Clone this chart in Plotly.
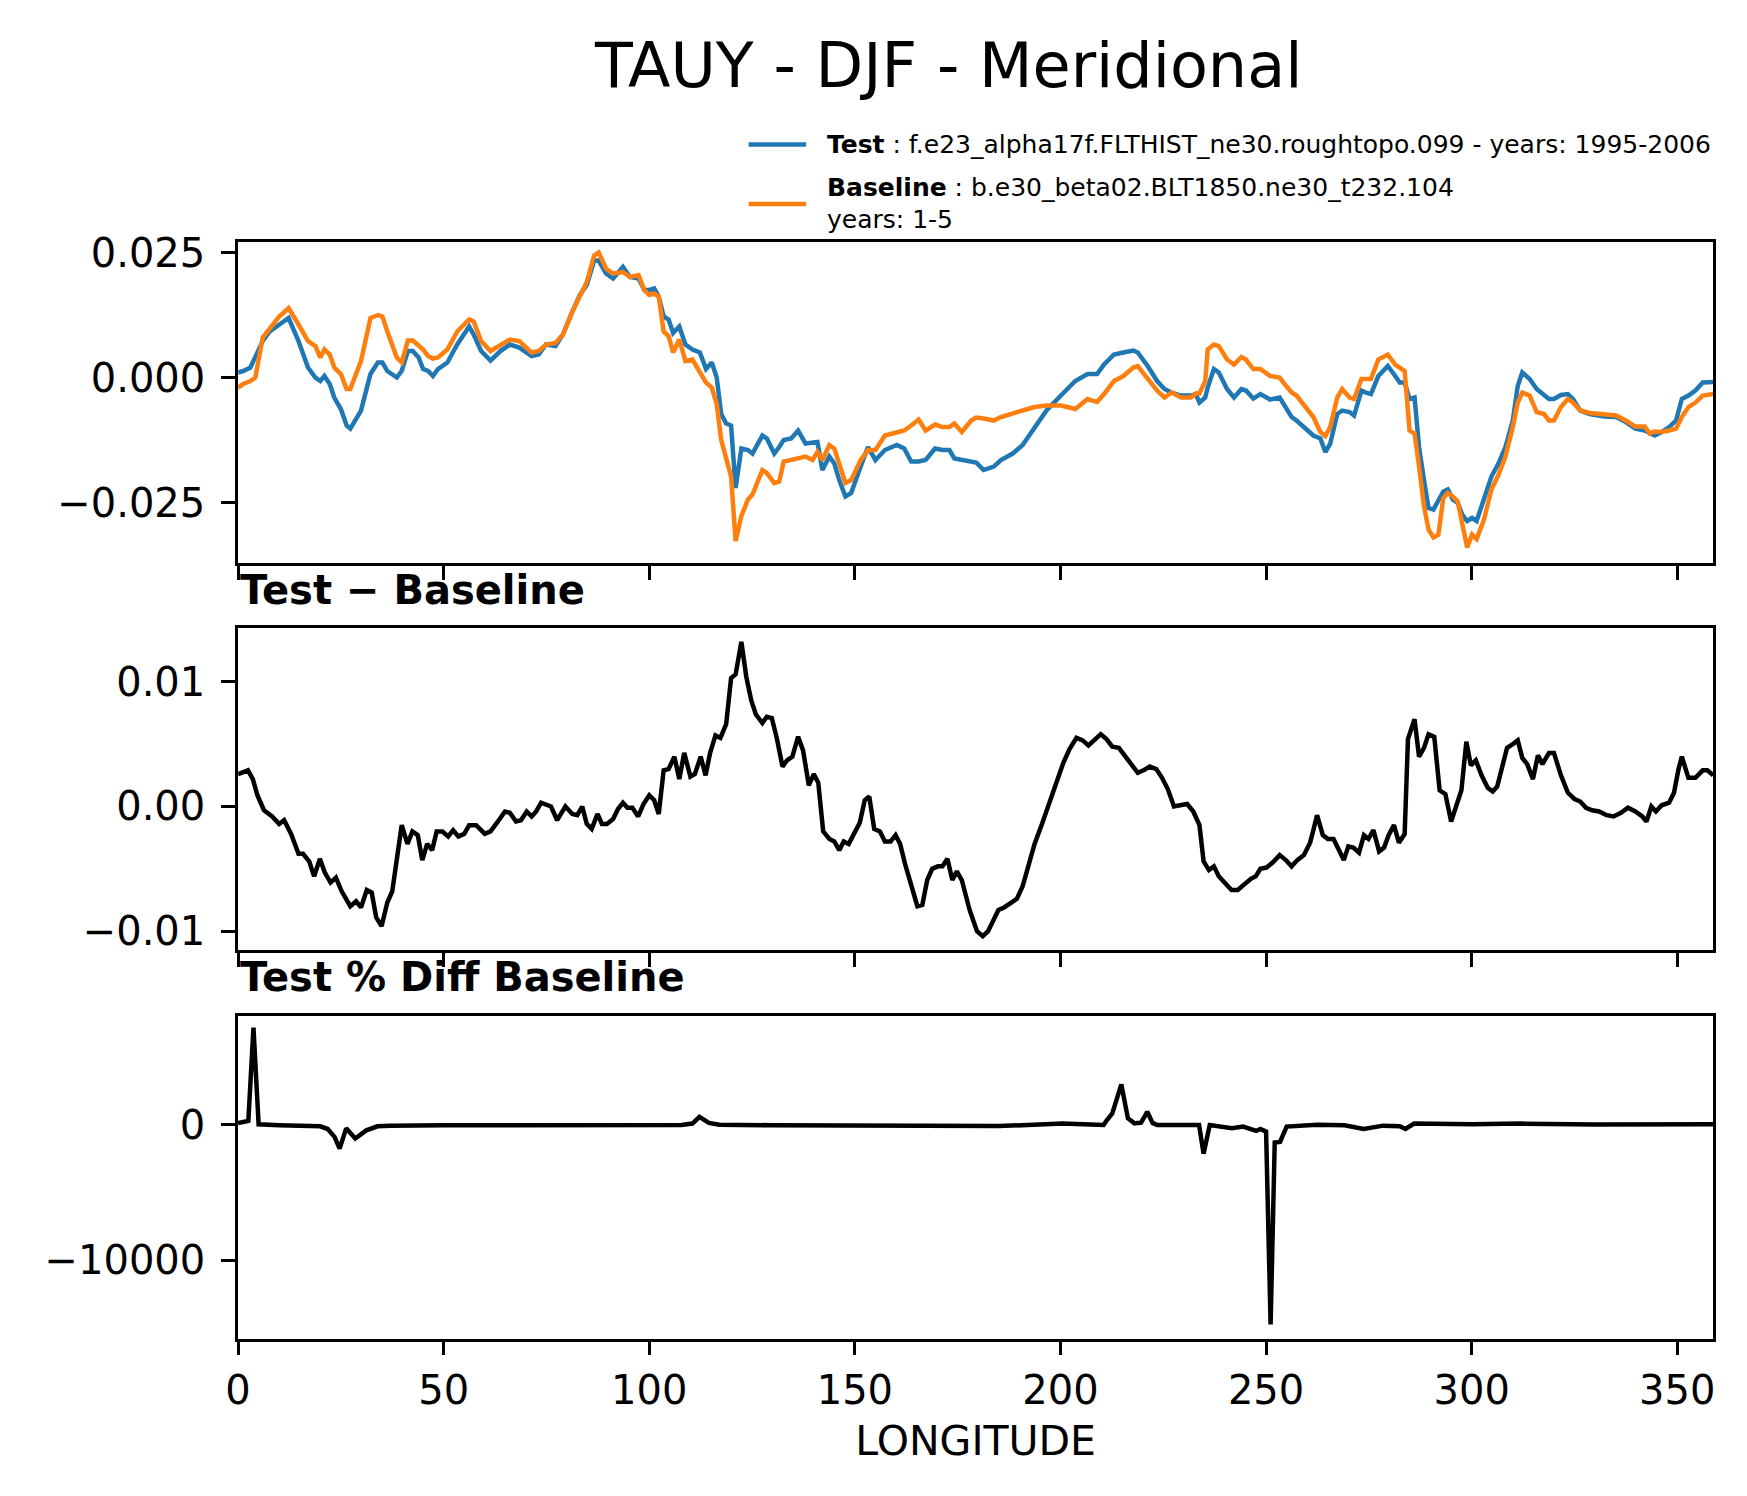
import plotly.graph_objects as go

# ---------------- data ----------------
lon_top = [0, 1.25, 3, 4.2, 6, 7.7, 10, 11.8, 12.3, 14.7, 17, 18.8, 20, 21, 22.3, 23.4, 25, 26.4, 27.3,
           29.9, 32.2, 34, 35.1, 36.3, 38.6, 39.8, 41.3, 42.5, 43.9, 45, 46.2, 47.4, 48.6, 50.9, 53.3,
           56.2, 57.3, 59.1, 61.4, 63.8, 66.1, 68.4, 71.4, 73.1, 74.9, 77.2, 79, 81.3, 83.1, 84.8, 86.6,
           87.7, 89.5, 91.2, 93.6, 95.3, 97.4, 98.8, 100, 101.2, 102.3, 103.5, 104.7, 105.8, 107.3,
           108.8, 110.5, 112.3, 113.8, 115.2, 116.4, 117.5, 118.7, 119.9, 121, 122.4, 124, 125.1,
           127.5, 128.6, 130.4, 131.6, 132.7, 134.5, 136.2, 138, 139.7, 140.9, 142.1, 143.8, 145,
           146.2, 147.7, 149.1, 151.4, 153.2, 155, 157.3, 160.2, 162, 163.7, 165.5, 167.2, 169.5,
           171.3, 173, 174.2, 176, 178.3, 179.5, 181.3, 183.8, 185.5, 188.4, 190.8, 193.7, 196.6,
           200.1, 203.6, 206.6, 208.9, 210.6, 213, 215.3, 217.7, 218.8, 221.2, 223.5, 225.3, 227,
           229.3, 231.7, 232.9, 233.8, 235.2, 235.8, 237.3, 238.5, 240.5, 242.2, 244, 245.1, 246.9,
           248.6, 251, 253.3, 254.5, 256.2, 257.4, 259.7, 261.5, 263.2, 264.4, 265.6, 267.3, 268.5,
           270.3, 271.4, 273.2, 274.3, 275.5, 277.3, 279.6, 281.4, 282.5, 283.7, 284.9, 286.1, 287.2,
           288.4, 289.5, 290.7, 291.9, 293.1, 294.2, 295.4, 296.6, 297.7, 298.9, 300.1, 301.2, 303,
           304.8, 306.5, 308.2, 310, 311.2, 312.3, 314.1, 315.8, 317.6, 318.8, 320, 321.7, 323.4,
           324.6, 326.4, 328.7, 332.2, 335.1, 337.5, 339.8, 342.1, 343.3, 344.5, 346.2, 348, 349.7,
           351.1, 352.7, 354.4, 356.2, 358.75]

tauy_test = [0.001, 0.0013, 0.002, 0.004, 0.0073, 0.0092, 0.0106, 0.0116, 0.0119, 0.0073, 0.002, 0.0,
             -0.0007, 0.0003, -0.0013, -0.004, -0.0063, -0.0096, -0.0102, -0.0066, 0.0007, 0.003,
             0.003, 0.0013, 0.0, 0.0013, 0.0053, 0.0053, 0.004, 0.0017, 0.0013, 0.0003, 0.0017, 0.003,
             0.0066, 0.0102, 0.0086, 0.0053, 0.0034, 0.0053, 0.0066, 0.006, 0.0043, 0.0046, 0.0066,
             0.0063, 0.0086, 0.0132, 0.0165, 0.0185, 0.0234, 0.0234, 0.0208, 0.0198, 0.0221, 0.0201,
             0.0198, 0.0175, 0.0175, 0.0178, 0.0162, 0.0122, 0.0116, 0.0089, 0.0102, 0.0066, 0.0056,
             0.005, 0.0017, 0.003, 0.0, -0.0073, -0.0092, -0.0096, -0.0221, -0.0142, -0.0145, -0.0152,
             -0.0116, -0.0122, -0.0152, -0.0139, -0.0125, -0.0122, -0.0106, -0.0132, -0.0129, -0.0129,
             -0.0185, -0.0158, -0.0172, -0.0205, -0.0238, -0.0231, -0.0178, -0.0139, -0.0165, -0.0145,
             -0.0135, -0.0142, -0.0168, -0.0168, -0.0165, -0.0142, -0.0145, -0.0145, -0.0162, -0.0165,
             -0.0168, -0.017, -0.0185, -0.0178, -0.0165, -0.0152, -0.0135, -0.0099, -0.0066, -0.0036,
             -0.0007, 0.0007, 0.0007, 0.0026, 0.0046, 0.005, 0.0054, 0.005, 0.0023, -0.0007, -0.0023,
             -0.003, -0.0036, -0.0036, -0.0033, -0.005, -0.004, -0.002, 0.0017, 0.001, -0.0023, -0.004,
             -0.0023, -0.0026, -0.0042, -0.0033, -0.0044, -0.004, -0.0056, -0.0079, -0.0086, -0.0102,
             -0.0116, -0.0122, -0.0149, -0.0132, -0.0073, -0.0066, -0.0069, -0.0076, -0.0026, -0.003,
             -0.0033, 0.0003, 0.0023, 0.0003, -0.001, -0.001, -0.0043, -0.004, -0.0139, -0.0205,
             -0.0261, -0.0264, -0.0248, -0.0228, -0.0224, -0.0244, -0.0251, -0.0274, -0.0287, -0.0281,
             -0.0287, -0.0241, -0.0198, -0.0172, -0.0139, -0.0086, -0.0017, 0.001, -0.0003, -0.0023,
             -0.0036, -0.0043, -0.0043, -0.0035, -0.0033, -0.0043, -0.0066, -0.0073, -0.0078, -0.0079,
             -0.0089, -0.0102, -0.0106, -0.0112, -0.0116, -0.0109, -0.0099, -0.0086, -0.0043, -0.0036,
             -0.0026, -0.001, -0.0009]

tauy_base = [-0.002, -0.0013, -0.0007, 0.0, 0.008, 0.0099, 0.0122, 0.0135, 0.0139, 0.0106, 0.0073,
             0.0063, 0.004, 0.0056, 0.0046, 0.002, 0.0007, -0.0023, -0.0023, 0.0033, 0.0119, 0.0125,
             0.0122, 0.0092, 0.004, 0.003, 0.0074, 0.0074, 0.0063, 0.0056, 0.0043, 0.0038, 0.004,
             0.0056, 0.0092, 0.0116, 0.0112, 0.0073, 0.0053, 0.0066, 0.0076, 0.0073, 0.005, 0.0053,
             0.0066, 0.0069, 0.0086, 0.0132, 0.0165, 0.0191, 0.0244, 0.025, 0.0218, 0.0208, 0.0211,
             0.0201, 0.0205, 0.0175, 0.0165, 0.0168, 0.0162, 0.0092, 0.0083, 0.005, 0.0076, 0.0033,
             0.0036, 0.001, -0.001, -0.002, -0.0053, -0.0125, -0.0158, -0.0198, -0.0327, -0.0277,
             -0.0244, -0.0234, -0.0185, -0.0191, -0.0211, -0.0208, -0.0168, -0.0165, -0.0162, -0.0158,
             -0.0165, -0.0149, -0.0165, -0.0135, -0.0142, -0.0172, -0.0211, -0.0205, -0.0165, -0.0145,
             -0.0145, -0.0116, -0.0109, -0.0106, -0.0096, -0.0084, -0.0106, -0.0094, -0.0099, -0.0099,
             -0.0092, -0.0109, -0.0086, -0.008, -0.0082, -0.0086, -0.0079, -0.0073, -0.0066, -0.0059,
             -0.0056, -0.0056, -0.0063, -0.0043, -0.0049, -0.0033, -0.0007, 0.0003, 0.002, 0.0023,
             -0.0003, -0.0026, -0.004, -0.003, -0.004, -0.004, -0.0032, -0.0032, -0.0007, 0.0056,
             0.0066, 0.0063, 0.0036, 0.0026, 0.0041, 0.0036, 0.0017, 0.0017, 0.0003, 0.0, -0.0013,
             -0.003, -0.0036, -0.0059, -0.0079, -0.0109, -0.0117, -0.0099, -0.004, -0.0023, -0.004,
             -0.0043, -0.0003, -0.0003, -0.0003, 0.0036, 0.0046, 0.0026, 0.002, 0.0013, -0.0106,
             -0.0112, -0.0178, -0.0257, -0.0304, -0.032, -0.0314, -0.0241, -0.0231, -0.0238, -0.0248,
             -0.0297, -0.034, -0.0314, -0.0323, -0.0284, -0.0224, -0.0195, -0.0158, -0.0099, -0.005,
             -0.003, -0.0036, -0.0069, -0.0073, -0.0086, -0.0086, -0.0059, -0.0043, -0.005, -0.0066,
             -0.0071, -0.0073, -0.0076, -0.0086, -0.0098, -0.0098, -0.0112, -0.0108, -0.0109, -0.0106,
             -0.0102, -0.0079, -0.0059, -0.005, -0.0036, -0.0033]

lon_diff = [0, 2.4, 3.6, 4.7, 6.3, 8.3, 10, 11.2, 12.9, 14.7, 15.8, 17.3, 18.5, 19.9, 21.1, 22.5, 23.8,
            25.2, 27.3, 28.7, 29.9, 31.3, 32.5, 33.6, 34.9, 36.3, 37.5, 38.7, 39.8, 41.2, 42.4, 43.7,
            44.8, 46, 47.2, 48.3, 49.7, 51.1, 52.3, 53.6, 55, 56.2, 57.9, 60, 61.4, 63.2, 64.9, 66.1,
            67.6, 68.8, 70.2, 71.4, 72.5, 73.7, 74.9, 76.1, 77.6, 79.6, 81.3, 82.5, 83.7, 84.8, 86,
            87.4, 88.5, 89.7, 91.2, 92.4, 93.6, 94.7, 95.9, 97.3, 98.6, 100, 101.2, 102.3, 103.5,
            104.7, 106.1, 107.3, 108.5, 110, 111.1, 112.5, 113.7, 114.8, 116.1, 117.3, 118.7, 119.9,
            121, 122.4, 123.6, 124.8, 125.9, 127.5, 128.6, 129.8, 131, 132.4, 133.5, 134.8, 136.2,
            137.4, 138.8, 140, 141.1, 142.3, 143.8, 145, 146.2, 147.3, 148.5, 150, 151.2, 152.4,
            153.5, 154.7, 156.1, 157.3, 158.7, 159.9, 161, 162.2, 163.7, 165.2, 166.4, 167.6, 168.8,
            170.2, 171.3, 172.5, 173.7, 174.8, 176, 177.9, 179.7, 181.1, 182.4, 183.8, 184.9, 186.3,
            187.9, 189.4, 190.8, 192.2, 193.7, 195.5, 197.2, 199, 200.7, 202.2, 203.9, 205.4, 206.8,
            208.3, 209.8, 211.2, 212.6, 214.2, 215.7, 217.1, 218.8, 220.2, 221.7, 223.3, 224.7,
            226.1, 227.6, 229.1, 230.8, 232.3, 233.8, 234.8, 236.1, 237.3, 238.5, 239.9, 241.6,
            243.1, 244.5, 246.3, 247.5, 248.6, 250.1, 251.6, 253.3, 254.8, 256.2, 257.6, 259.2,
            260.7, 261.5, 262.4, 263.8, 265, 266.4, 267.7, 268.9, 270, 271.2, 272.6, 273.8, 274.9,
            276.1, 277.5, 278.7, 279.8, 281.1, 282.3, 283.7, 284.5, 286.1, 287.2, 288.4, 289.5,
            290.9, 292.2, 293.6, 295, 296.2, 297.5, 298.7, 299.8, 301, 302.4, 303.9, 305.1, 306.2,
            307.4, 308.6, 310, 311.2, 312.3, 313.5, 314.9, 316.1, 317.2, 318.8, 320, 321.7, 323.4,
            325, 326.4, 327.8, 329.3, 331, 332.8, 334.5, 336.3, 338, 339.8, 341.5, 342.5, 343.7,
            344.8, 346.2, 348, 349.2, 350.3, 351.1, 352.7, 354.4, 356.2, 357.3, 358.75]

tauy_diff = [0.0026, 0.0029, 0.0022, 0.0009, -0.0003, -0.0008, -0.0014, -0.0011, -0.0022, -0.0038,
             -0.0038, -0.0044, -0.0056, -0.0042, -0.0053, -0.0061, -0.0057, -0.0068, -0.008, -0.0076,
             -0.0081, -0.0067, -0.0069, -0.0089, -0.0096, -0.0077, -0.0068, -0.004, -0.0015, -0.003,
             -0.002, -0.0023, -0.0043, -0.003, -0.0035, -0.002, -0.002, -0.0024, -0.0019, -0.0024,
             -0.0022, -0.0015, -0.0015, -0.0022, -0.002, -0.0012, -0.0004, -0.0005, -0.0012, -0.0011,
             -0.0004, -0.0008, -0.0004, 0.0003, 0.0001, 0.0, -0.0011, 0.0, -0.0006, -0.0007, 0.0,
             -0.0014, -0.0018, -0.0006, -0.0014, -0.0014, -0.001, -0.0002, 0.0003, -0.0001, -0.0001,
             -0.0008, 0.0002, 0.0009, 0.0005, -0.0006, 0.0029, 0.003, 0.004, 0.0022, 0.0043, 0.0024,
             0.0026, 0.004, 0.0025, 0.0043, 0.0057, 0.0055, 0.0066, 0.0103, 0.0106, 0.0132, 0.0104,
             0.0085, 0.0074, 0.0067, 0.0072, 0.0071, 0.0055, 0.0032, 0.0037, 0.004, 0.0056, 0.0045,
             0.0017, 0.0026, 0.0019, -0.002, -0.0026, -0.0028, -0.0035, -0.0028, -0.003, -0.002,
             -0.0013, 0.0005, 0.0008, -0.0018, -0.002, -0.0028, -0.0028, -0.0023, -0.003, -0.0046,
             -0.0064, -0.008, -0.0079, -0.0059, -0.005, -0.0048, -0.0048, -0.0042, -0.0059, -0.0052,
             -0.0059, -0.0083, -0.01, -0.0104, -0.01, -0.009, -0.0083, -0.0081, -0.0077, -0.0074,
             -0.0064, -0.0048, -0.003, -0.0014, 0.0003, 0.0019, 0.0035, 0.0046, 0.0055, 0.0053,
             0.0049, 0.0054, 0.0058, 0.0054, 0.0048, 0.0047, 0.004, 0.0034, 0.0027, 0.0029, 0.0032,
             0.003, 0.0023, 0.0014, 0.0, 0.0001, 0.0002, -0.0004, -0.0015, -0.0044, -0.0051, -0.0048,
             -0.0056, -0.0061, -0.0067, -0.0067, -0.0063, -0.0058, -0.0056, -0.005, -0.0049, -0.0045,
             -0.0039, -0.0043, -0.0048, -0.0043, -0.0039, -0.0029, -0.0019, -0.0007, -0.0023,
             -0.0026, -0.0026, -0.0034, -0.0043, -0.0032, -0.0033, -0.0037, -0.0023, -0.0026,
             -0.0019, -0.0036, -0.0033, -0.0023, -0.0015, -0.0029, -0.0022, 0.0054, 0.007, 0.004,
             0.0047, 0.0058, 0.0056, 0.0013, 0.001, -0.0012, 0.0001, 0.0013, 0.0052, 0.0033, 0.0037,
             0.0025, 0.0015, 0.0012, 0.0016, 0.003, 0.0047, 0.005, 0.0053, 0.0039, 0.0034, 0.0022,
             0.0041, 0.0034, 0.0043, 0.0043, 0.0025, 0.0011, 0.0006, 0.0004, -0.0001, -0.0003,
             -0.0004, -0.0007, -0.0008, -0.0005, -0.0001, -0.0004, -0.0008, -0.0012, 0.0, -0.0004,
             0.0001, 0.0003, 0.0011, 0.003, 0.004, 0.0023, 0.0023, 0.0029, 0.0029, 0.0025]

lon_pct = [0, 1.25, 2.5, 3.75, 5, 10, 15, 20, 21.8, 23.5, 24.7, 26.3, 28.5, 31.2, 33.9, 37, 50, 75,
           100, 107.8, 110.5, 112.2, 114.5, 117, 130, 150, 165, 185, 200.5, 210.5, 211, 212.6, 214.8,
           216.4, 218, 219.6, 221.1, 222.4, 223.5, 233.7, 234.8, 236.3, 241.7, 244.4, 247.6, 248.6,
           250, 251.1, 252.1, 253.4, 255, 262.4, 269.1, 273.7, 278.5, 282.5, 283.9, 286, 300, 312,
           330, 358.75]

pct_diff = [150, 200, 300, 7180, 50, -20, -50, -100, -300, -900, -1750, -250, -1000, -400, -100,
            -50, -30, -20, -10, 0, 100, 600, 150, 20, -20, -50, -100, -80, 100, 0, 240, 850, 2990,
            490, 120, 170, 970, 150, 0, 0, -2120, 0, -250, -120, -440, -300, -490, -14715, -1290,
            -1250, -120, 20, -30, -300, -50, -100, -300, 100, 50, 100, 40, 50]

x_ticks = [0, 50, 100, 150, 200, 250, 300, 350]
top_ticks = [0.025, 0.0, -0.025]
top_tick_text = ["0.025", "0.000", "\u22120.025"]
mid_ticks = [0.01, 0.0, -0.01]
mid_tick_text = ["0.01", "0.00", "\u22120.01"]
bot_ticks = [0, -10000]
bot_tick_text = ["0", "\u221210000"]

# ---------------- figure ----------------
W, H = 1747, 1496
FONT = "DejaVu Sans"
BLUE = "#1f77b4"
ORANGE = "#ff7f0e"

fig = go.Figure()
fig.add_trace(go.Scatter(x=lon_top, y=tauy_test, mode="lines", line=dict(color=BLUE, width=4.5),
                         xaxis="x", yaxis="y", name="Test", showlegend=False))
fig.add_trace(go.Scatter(x=lon_top, y=tauy_base, mode="lines", line=dict(color=ORANGE, width=4.5),
                         xaxis="x", yaxis="y", name="Baseline", showlegend=False))
fig.add_trace(go.Scatter(x=lon_diff, y=tauy_diff, mode="lines", line=dict(color="black", width=4.5),
                         xaxis="x2", yaxis="y2", showlegend=False))
fig.add_trace(go.Scatter(x=lon_pct, y=pct_diff, mode="lines", line=dict(color="black", width=4.5),
                         xaxis="x3", yaxis="y3", showlegend=False))

xdom = [227 / W, 1715 / W]


def ydom(top_px, bot_px):
    return [1 - bot_px / H, 1 - top_px / H]


TICK = 40
common = dict(showline=True, linecolor="black", linewidth=2.6, mirror=True, ticks="outside",
              ticklen=14, tickwidth=2.6, tickcolor="black", showgrid=False, zeroline=False,
              tickfont=dict(family=FONT, size=TICK, color="black"))

xcommon = dict(common, range=[0, 358.75], tickvals=x_ticks, domain=xdom)

fig.update_layout(
    width=W, height=H,
    margin=dict(l=0, r=0, t=0, b=0),
    paper_bgcolor="white", plot_bgcolor="white",
    font=dict(family=FONT, color="black"),
    xaxis=dict(xcommon, anchor="y", showticklabels=False),
    yaxis=dict(common, domain=ydom(232, 557), range=[-0.0371, 0.0272], anchor="x",
               tickvals=top_ticks, ticktext=top_tick_text, ticklabelstandoff=8),
    xaxis2=dict(xcommon, anchor="y2", showticklabels=False, matches="x"),
    yaxis2=dict(common, domain=ydom(623, 948), range=[-0.0115, 0.01429], anchor="x2",
                tickvals=mid_ticks, ticktext=mid_tick_text, ticklabelstandoff=8),
    xaxis3=dict(xcommon, anchor="y3", matches="x", ticklabelstandoff=1,
                title=dict(text="LONGITUDE", font=dict(family=FONT, size=41, color="black"), standoff=14)),
    yaxis3=dict(common, domain=ydom(1015, 1341), range=[-15770, 8030], anchor="x3",
                tickvals=bot_ticks, ticktext=bot_tick_text, ticklabelstandoff=8),
)

LEG = 25
annotations = [
    dict(text="TAUY - DJF - Meridional", x=943 / W, y=1 - 54 / H, xref="paper", yref="paper",
         xanchor="center", yanchor="middle", showarrow=False, font=dict(family=FONT, size=62, color="black")),
    dict(text="<b>Test</b> : f.e23_alpha17f.FLTHIST_ne30.roughtopo.099 - years: 1995-2006",
         x=819 / W, y=1 - 134 / H, xref="paper", yref="paper", xanchor="left", yanchor="middle",
         showarrow=False, font=dict(family=FONT, size=LEG, color="black")),
    dict(text="<b>Baseline</b> : b.e30_beta02.BLT1850.ne30_t232.104",
         x=819 / W, y=1 - 177 / H, xref="paper", yref="paper", xanchor="left", yanchor="middle",
         showarrow=False, font=dict(family=FONT, size=LEG, color="black")),
    dict(text="years: 1-5",
         x=819 / W, y=1 - 210 / H, xref="paper", yref="paper", xanchor="left", yanchor="middle",
         showarrow=False, font=dict(family=FONT, size=LEG, color="black")),
    dict(text="<b>Test \u2212 Baseline</b>", x=227 / W, y=1 - 584 / H, xref="paper", yref="paper",
         xanchor="left", yanchor="middle", showarrow=False, font=dict(family=FONT, size=TICK, color="black")),
    dict(text="<b>Test % Diff Baseline</b>", x=227 / W, y=1 - 975 / H, xref="paper", yref="paper",
         xanchor="left", yanchor="middle", showarrow=False, font=dict(family=FONT, size=TICK, color="black")),
]
fig.update_layout(annotations=annotations)

fig.update_layout(shapes=[
    dict(type="line", xref="paper", yref="paper", x0=742 / W, x1=800 / W, y0=1 - 134 / H, y1=1 - 134 / H,
         line=dict(color=BLUE, width=4.5)),
    dict(type="line", xref="paper", yref="paper", x0=742 / W, x1=800 / W, y0=1 - 194 / H, y1=1 - 194 / H,
         line=dict(color=ORANGE, width=4.5)),
])

fig.write_html("out.html", config={"displayModeBar": False},
               post_script="document.body.style.margin='0px';")
